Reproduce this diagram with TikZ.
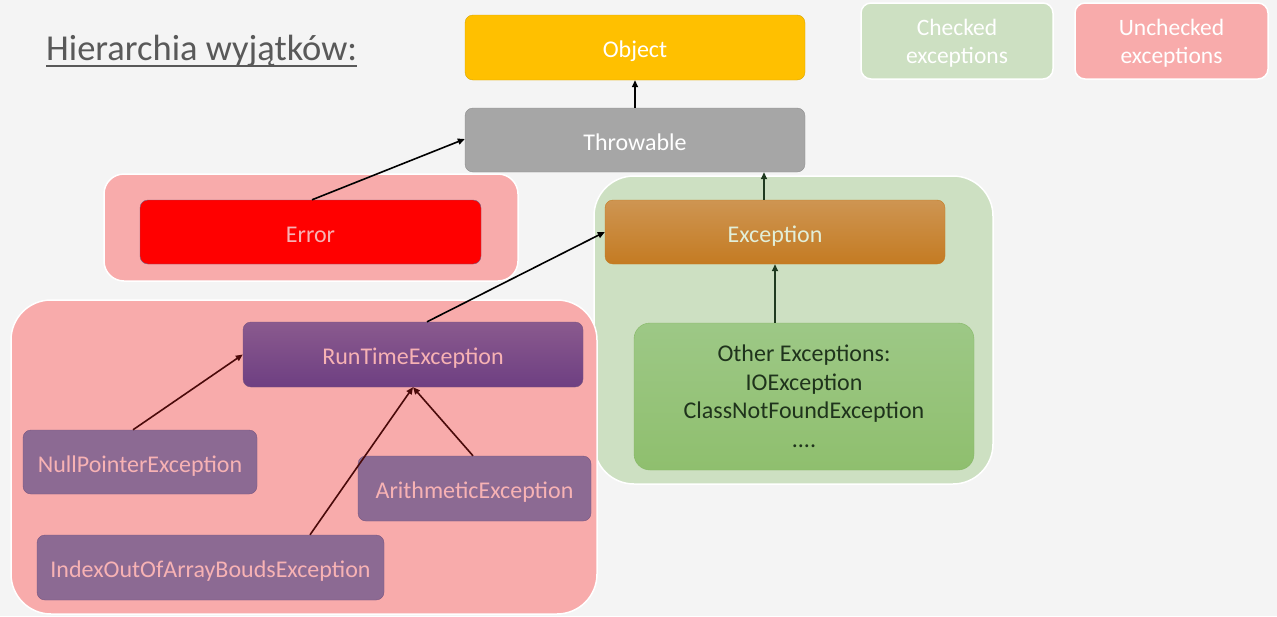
\documentclass[tikz,border=0pt]{standalone}
\usepackage{fontspec}
\setmainfont{Carlito}
\usetikzlibrary{arrows.meta,calc}
\definecolor{bg}{HTML}{F4F4F4}
\definecolor{pinkg}{HTML}{F8ABAB}
\definecolor{greeng}{HTML}{CDE0C2}
\definecolor{objf}{HTML}{FFC000}
\definecolor{objd}{HTML}{D9A600}
\definecolor{thrf}{HTML}{A6A6A6}
\definecolor{thrd}{HTML}{8E8E8E}
\definecolor{errd}{HTML}{7A5C7E}
\definecolor{exct}{HTML}{CE9552}
\definecolor{excb}{HTML}{C47B22}
\definecolor{exctx}{HTML}{E2EFD9}
\definecolor{othf}{HTML}{9DC886}
\definecolor{othb}{HTML}{8FBF6E}
\definecolor{othd}{HTML}{86B866}
\definecolor{othtx}{HTML}{1F331C}
\definecolor{rtt}{HTML}{8A5A8E}
\definecolor{rtb}{HTML}{6E3F82}
\definecolor{purf}{HTML}{8C6A93}
\definecolor{purd}{HTML}{785681}
\definecolor{pinktx}{HTML}{F7B2B4}
\definecolor{darkred}{HTML}{4A0A0A}
\definecolor{darkgrn}{HTML}{1F3A1F}
\definecolor{titlec}{HTML}{595959}
\tikzset{
  box/.style={rounded corners=8pt, inner sep=0pt, align=center, font=\fontsize{24}{28}\selectfont},
  oneline/.style={text height=20pt, text depth=0pt},
  grp/.style={draw=white, line width=1.5pt, fill=#1, inner sep=0pt},
  arr/.style={-{Triangle[length=7pt,width=6pt]}, line width=1.6pt, draw=#1},
}
\begin{document}
\begin{tikzpicture}[x=1pt,y=-1pt]
\fill[bg] (0,0) rectangle (1277,616);
\useasboundingbox (0,0) rectangle (1277,616);
% title
\node[anchor=base west, inner sep=0pt, text=titlec, font=\fontsize{36.5}{40}\selectfont] (title) at (46,60) {Hierarchia wyjątków:};
\draw[titlec, line width=1.2pt] ($(title.base west)+(0,6)$) -- ($(title.base east)+(0,6)$);
% groups
\node[grp=greeng, rounded corners=40pt, minimum width=399pt, minimum height=308pt] (chk) at (793.5,330) {};
\node[grp=pinkg, rounded corners=20pt, minimum width=414pt, minimum height=107pt] (errg) at (311,227.5) {};
\node[grp=pinkg, rounded corners=40pt, minimum width=586pt, minimum height=314pt] (unc) at (304,457) {};
% legend
\node[grp=greeng, rounded corners=10pt, minimum width=192pt, minimum height=76pt, text=white, align=center, font=\fontsize{23.5}{28}\selectfont] (lch) at (957,41) {\rule{0pt}{21pt}Checked\\exceptions};
\node[grp=pinkg, rounded corners=10pt, minimum width=193pt, minimum height=76pt, text=white, align=center, font=\fontsize{23.5}{28}\selectfont] (lun) at (1171.5,41) {\rule{0pt}{21pt}Unchecked\\exceptions};
% boxes
\node[box, oneline, draw=objd, fill=objf, text=white, minimum width=340pt, minimum height=65pt] (obj) at (635,47.5) {Object};
\node[box, oneline, draw=thrd, fill=thrf, text=white, minimum width=340pt, minimum height=64pt] (thr) at (635,140) {Throwable};
\node[box, oneline, draw=errd, fill=red, text=pinktx, minimum width=341pt, minimum height=64pt] (err) at (310.5,232) {Error};
\node[box, oneline, draw=excb, top color=exct, bottom color=excb, text=exctx, minimum width=340pt, minimum height=64pt] (exc) at (775,232) {Exception};
\node[box, draw=othd, top color=othf, bottom color=othb, text=othtx, minimum width=340pt, minimum height=147pt, rounded corners=16pt, font=\fontsize{24}{28.5}\selectfont] (oth) at (804,396.5) {Other Exceptions:\\IOException\\ClassNotFoundException\\....};
\node[box, oneline, draw=purd, top color=rtt, bottom color=rtb, text=pinktx, minimum width=340pt, minimum height=65pt] (rt) at (413,354.5) {RunTimeException};
\node[box, oneline, draw=purd, fill=purf, text=pinktx, minimum width=234pt, minimum height=64pt] (np) at (140,462) {NullPointerException};
\node[box, oneline, draw=purd, fill=purf, text=pinktx, minimum width=233pt, minimum height=65pt] (ar) at (474.5,488.5) {ArithmeticException};
\node[box, oneline, draw=purd, fill=purf, text=pinktx, minimum width=347pt, minimum height=65pt] (ix) at (210.5,567.5) {IndexOutOfArrayBoudsException};
% arrows
\draw[arr=black] (thr.north) -- (obj.south);
\draw[arr=black] ([xshift=1.5pt]err.north) -- ([yshift=1pt]thr.west);
\draw[arr=darkgrn] ([xshift=-11pt]exc.north) -- ([xshift=-11pt]exc.north |- thr.south);
\draw[arr=black] ([xshift=14pt]rt.north) -- (exc.west);
\draw[arr=darkgrn] (oth.north -| exc.south) -- (exc.south);
\draw[arr=darkred] ([xshift=-7pt]np.north) -- (rt.west);
\draw[arr=darkred] ([xshift=99.5pt]ix.north) -- (rt.south);
\draw[arr=darkred] ([xshift=-1.5pt]ar.north) -- (rt.south);
\end{tikzpicture}
\end{document}
